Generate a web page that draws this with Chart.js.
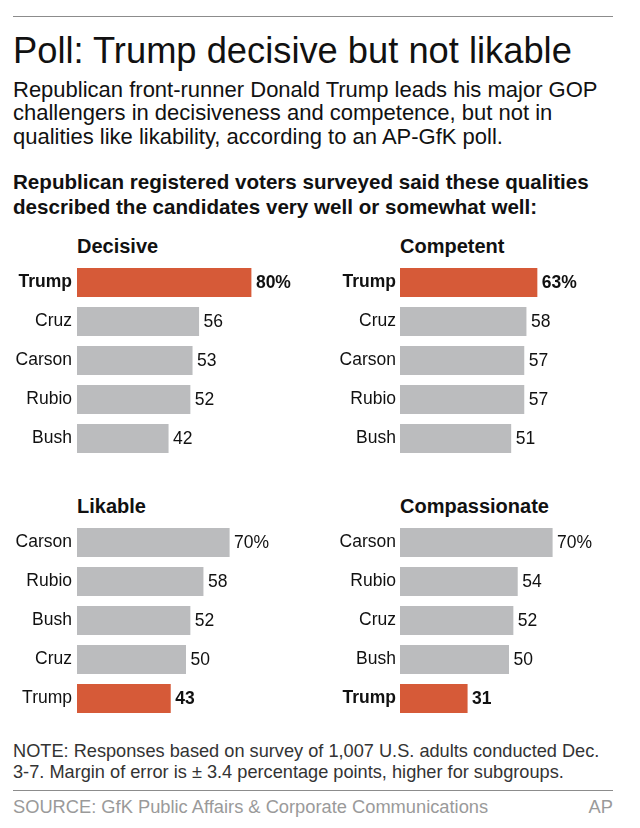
<!DOCTYPE html>
<html>
<head>
<meta charset="utf-8">
<script src="https://cdn.jsdelivr.net/npm/chart.js@4.4.1/dist/chart.umd.min.js"></script>
<style>
  body { margin: 0; background: #fff; font-family: "Liberation Sans", Arial, sans-serif; color: #111; }
  #page { position: relative; width: 640px; height: 828px; overflow: hidden; }
  .txt { position: absolute; left: 13px; white-space: nowrap; }
  .rule { position: absolute; left: 13px; width: 600px; height: 0; border-top: 1px solid #8c8c8c; }
  .box { position: absolute; width: 320px; height: 204px; }
</style>
</head>
<body>
<div id="page">
  <div class="rule" style="top:16px"></div>
  <div class="txt" style="top:30.8px;font-size:36.3px;line-height:40px;">Poll: Trump decisive but not likable</div>
  <div class="txt" style="top:77.6px;font-size:22px;line-height:23.5px;">Republican front-runner Donald Trump leads his major GOP<br>challengers in decisiveness and competence, but not in<br>qualities like likability, according to an AP-GfK poll.</div>
  <div class="txt" style="top:168.7px;font-size:20.6px;line-height:25px;font-weight:bold;">Republican registered voters surveyed said these qualities<br>described the candidates very well or somewhat well:</div>

  <div class="txt" style="left:77px;top:234.4px;font-size:20px;line-height:24px;font-weight:bold;">Decisive</div>
  <div class="txt" style="left:400px;top:234.4px;font-size:20px;line-height:24px;font-weight:bold;">Competent</div>
  <div class="txt" style="left:77px;top:494.4px;font-size:20px;line-height:24px;font-weight:bold;">Likable</div>
  <div class="txt" style="left:400px;top:494.4px;font-size:20px;line-height:24px;font-weight:bold;">Compassionate</div>

  <div class="box" style="left:0;top:258px"><canvas id="decisive"></canvas></div>
  <div class="box" style="left:320px;top:258px"><canvas id="competent"></canvas></div>
  <div class="box" style="left:0;top:518px"><canvas id="likable"></canvas></div>
  <div class="box" style="left:320px;top:518px"><canvas id="compassionate"></canvas></div>

  <div class="txt" style="top:740.6px;font-size:18.2px;line-height:21px;color:#333;">NOTE: Responses based on survey of 1,007 U.S. adults conducted Dec.<br>3-7. Margin of error is ± 3.4 percentage points, higher for subgroups.</div>
  <div class="rule" style="top:790px"></div>
  <div class="txt" style="top:796px;font-size:18.3px;line-height:21px;color:#9a9a9a;">SOURCE: GfK Public Affairs &amp; Corporate Communications</div>
  <div class="txt" style="left:auto;right:27px;top:796px;font-size:18.3px;line-height:21px;color:#9a9a9a;">AP</div>
</div>
<script>
const decisiveLabels = ['Trump', 'Cruz', 'Carson', 'Rubio', 'Bush'];
const decisiveValues = [80, 56, 53, 52, 42];
const competentLabels = ['Trump', 'Cruz', 'Carson', 'Rubio', 'Bush'];
const competentValues = [63, 58, 57, 57, 51];
const likableLabels = ['Carson', 'Rubio', 'Bush', 'Cruz', 'Trump'];
const likableValues = [70, 58, 52, 50, 43];
const compassionateLabels = ['Carson', 'Rubio', 'Cruz', 'Bush', 'Trump'];
const compassionateValues = [70, 54, 52, 50, 31];

const FONT = '"Liberation Sans", Arial, sans-serif';
const ORANGE = '#d65a38';
const GREY = '#bbbcbe';

// draws the number right after each bar, % only on the first one
const valueLabels = {
    id: 'valueLabels',
    afterDatasetsDraw(chart) {
        const ctx = chart.ctx;
        const labels = chart.data.labels;
        const values = chart.data.datasets[0].data;
        chart.getDatasetMeta(0).data.forEach((bar, i) => {
            const bold = labels[i] === 'Trump';
            ctx.save();
            ctx.font = (bold ? 'bold ' : '') + '17.5px ' + FONT;
            ctx.fillStyle = '#111';
            ctx.textAlign = 'left';
            ctx.textBaseline = 'middle';
            ctx.fillText(values[i] + (i === 0 ? '%' : ''), bar.x + 4.5, bar.y + 1);
            ctx.restore();
        });
    }
};

function makeChart(canvasId, labels, values, axisWidth, labelRight, boldTrump) {
    const ctx = document.getElementById(canvasId).getContext('2d');
    return new Chart(ctx, {
        type: 'bar',
        data: {
            labels: labels,
            datasets: [{
                data: values,
                backgroundColor: labels.map(l => l === 'Trump' ? ORANGE : GREY),
                borderWidth: 0,
                barPercentage: 29 / 39,
                categoryPercentage: 1
            }]
        },
        options: {
            indexAxis: 'y',
            responsive: true,
            maintainAspectRatio: false,
            animation: false,
            layout: { padding: { top: 5, bottom: 4, left: 0, right: 320 - axisWidth - 218 } },
            plugins: {
                legend: { display: false },
                tooltip: { enabled: false }
            },
            scales: {
                x: { display: false, min: 0, max: 100 },
                y: {
                    grid: { display: false, drawTicks: false },
                    border: { display: false },
                    afterFit(scale) {
                        scale.width = axisWidth;
                        scale.paddingTop = 0;
                        scale.paddingBottom = 0;
                    },
                    ticks: {
                        padding: axisWidth - labelRight,
                        color: '#111',
                        font: c => ({
                            family: FONT,
                            size: 17.5,
                            weight: (boldTrump && c.tick && c.tick.label === 'Trump') ? 'bold' : 'normal'
                        })
                    }
                }
            }
        },
        plugins: [valueLabels]
    });
}

makeChart('decisive', decisiveLabels, decisiveValues, 77, 72, true);
makeChart('competent', competentLabels, competentValues, 80, 76, true);
makeChart('likable', likableLabels, likableValues, 77, 72, false);
makeChart('compassionate', compassionateLabels, compassionateValues, 80, 76, true);
</script>
</body>
</html>
